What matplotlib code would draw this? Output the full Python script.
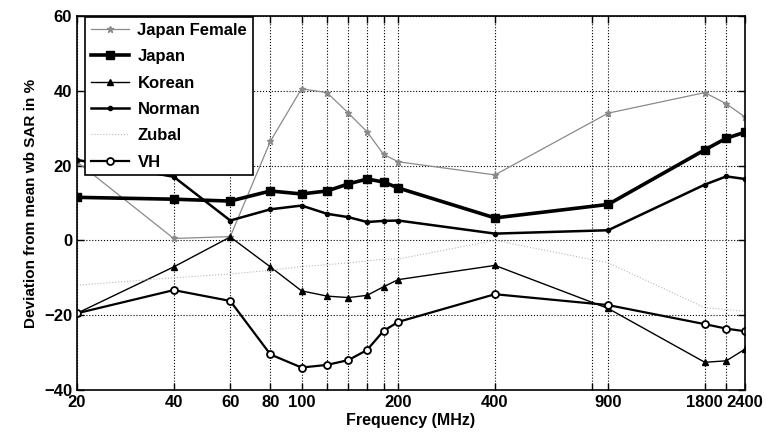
import matplotlib.pyplot as plt
import matplotlib.ticker as mticker

plt.rcParams['font.family'] = ['Liberation Sans', 'DejaVu Sans']
plt.rcParams['font.weight'] = 'bold'

# frequencies (MHz) at which the whole-body SAR deviation was evaluated
freqs = [20, 40, 60, 80, 100, 120, 140, 160, 180, 200, 400, 900, 1800, 2100, 2400]

japan_female = [21, 0.5, 1, 26.5, 40.5, 39.5, 34, 29, 23, 21, 17.5, 34, 39.5, 36.5, 33]
japan = [11.5, 11, 10.5, 13.2, 12.4, 13.2, 15.1, 16.4, 15.6, 14, 6, 9.6, 24.2, 27.3, 28.9]
korean = [-19.5, -7.1, 0.9, -7.1, -13.5, -14.9, -15.3, -14.7, -12.4, -10.5, -6.7, -18.2, -32.6, -32.2, -29.1]
norman = [21.5, 17, 5.3, 8.3, 9.3, 7.1, 6.2, 4.9, 5.2, 5.3, 1.8, 2.7, 14.9, 17.1, 16.4]
zubal = [-12, -10, -9, -8, -7, -6.5, -6, -5.5, -5, -5, 0, -6, -18, -18.5, -19]
vh = [-19.5, -13.3, -16.2, -30.5, -34, -33.3, -32, -29.3, -24.2, -21.8, -14.4, -17.3, -22.4, -23.6, -24.3]

tick_freqs = [20, 40, 60, 80, 100, 120, 140, 160, 180, 200, 400, 800, 900, 1800, 2100, 2400]
tick_labels = ['20', '40', '60', '80', '100', '', '', '', '', '200', '400', '', '900', '1800', '', '2400']

fig = plt.figure(figsize=(7.66, 4.37), dpi=100)
ax = fig.add_axes([0.1005, 0.1076, 0.872, 0.856])

ax.plot(freqs, japan_female, color='#8a8a8a', lw=0.9, marker='*', ms=5, label='Japan Female')
ax.plot(freqs, japan, color='black', lw=2.6, marker='s', ms=6, label='Japan')
ax.plot(freqs, korean, color='black', lw=1.0, marker='^', ms=4, label='Korean')
ax.plot(freqs, norman, color='black', lw=1.8, marker='.', ms=6, label='Norman')
ax.plot(freqs, zubal, color='#b8b8b8', lw=0.8, ls=':', label='Zubal')
ax.plot(freqs, vh, color='black', lw=1.6, marker='o', ms=5, mfc='white', mec='black', mew=1.3, label='VH')

ax.set_xscale('log')
ax.set_xlim(20, 2400)
ax.set_ylim(-40, 60)
ax.xaxis.set_major_locator(mticker.FixedLocator(tick_freqs))
ax.xaxis.set_major_formatter(mticker.FixedFormatter(tick_labels))
ax.xaxis.set_minor_locator(mticker.NullLocator())
ax.set_yticks([-40, -20, 0, 20, 40, 60])

ax.grid(True, ls=':', color='black', lw=0.8)
ax.tick_params(direction='in', top=True, right=True, labelsize=12, length=5, width=1)
for s in ax.spines.values():
    s.set_linewidth(1.2)

ax.set_xlabel('Frequency (MHz)', fontsize=11.5, fontweight='bold', labelpad=2)
ax.set_ylabel('Deviation from mean wb SAR in %', fontsize=11, fontweight='bold', labelpad=4)

leg = ax.legend(loc='upper left', bbox_to_anchor=(0.012, 0.997), fontsize=12, frameon=True,
                fancybox=False, edgecolor='black', borderaxespad=0, handlelength=2.3,
                labelspacing=0.68, borderpad=0.35, handletextpad=0.5)
leg.get_frame().set_linewidth(1.2)
leg.get_frame().set_alpha(1)

fig.savefig('out.png', dpi=100)
